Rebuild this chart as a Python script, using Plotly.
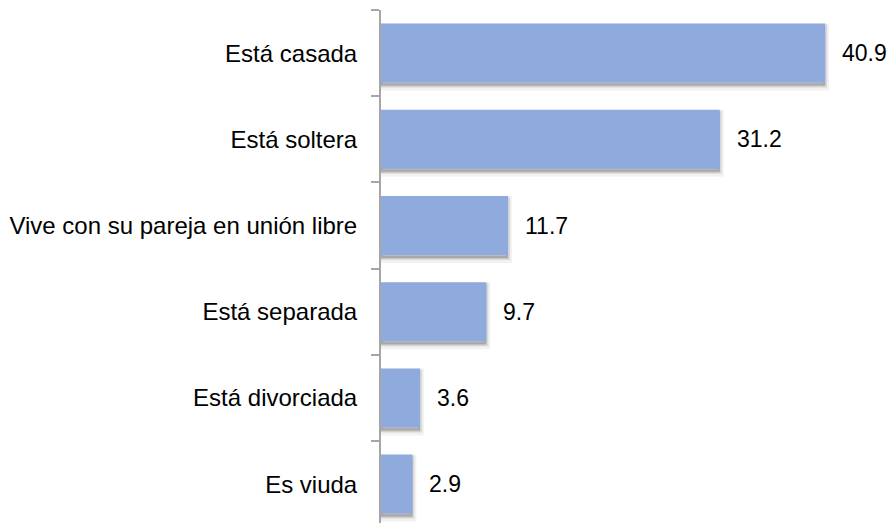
import plotly.graph_objects as go

categories = ["Está casada", "Está soltera", "Vive con su pareja en unión libre",
              "Está separada", "Está divorciada", "Es viuda"]
values = [40.9, 31.2, 11.7, 9.7, 3.6, 2.9]
value_labels = ["40.9", "31.2", "11.7", "9.7", "3.6", "2.9"]

BAR_COLOR = "#8FAADC"
FONT = "Liberation Sans, Arial, sans-serif"
W, H = 891, 523
TOP = 10
BAND_PX = 86.2
bar_w = 59 / BAND_PX

fig = go.Figure()

# soft drop shadow (two layers)
fig.add_trace(go.Bar(
    x=values, y=categories, orientation="h",
    width=bar_w, offset=-bar_w / 2 + 4 / BAND_PX,
    marker=dict(color="rgba(0,0,0,0.08)", line=dict(color="rgba(0,0,0,0.05)", width=8)),
    hoverinfo="skip", showlegend=False,
))
fig.add_trace(go.Bar(
    x=values, y=categories, orientation="h",
    width=bar_w, offset=-bar_w / 2 + 3 / BAND_PX,
    marker=dict(color="rgba(0,0,0,0.16)", line=dict(color="rgba(0,0,0,0.10)", width=4)),
    hoverinfo="skip", showlegend=False,
))
# main bars
fig.add_trace(go.Bar(
    x=values, y=categories, orientation="h",
    width=bar_w, offset=-bar_w / 2,
    marker=dict(color=BAR_COLOR, line=dict(width=0)),
    showlegend=False,
))

for c, v, t in zip(categories, values, value_labels):
    fig.add_annotation(x=v, y=c, text=t, xanchor="left", yanchor="middle",
                       xshift=15, showarrow=False,
                       font=dict(family=FONT, size=23, color="#000000"))

plot_h = H - TOP
units = plot_h / BAND_PX
fig.update_layout(
    width=W, height=H,
    margin=dict(l=381, r=20, t=TOP, b=0, pad=0, autoexpand=False),
    paper_bgcolor="white", plot_bgcolor="white",
    barmode="overlay",
    font=dict(family=FONT, size=23, color="#000000"),
    xaxis=dict(range=[0, 490 / 10.86], visible=False, showgrid=False, zeroline=False,
               automargin=False),
    yaxis=dict(
        type="category",
        automargin=False,
        range=[-0.5 + units, -0.5],
        showline=True, linecolor="#A6A6A6", linewidth=2,
        ticks="outside", tickson="boundaries", ticklen=8, tickcolor="#A6A6A6", tickwidth=2,
        showgrid=False, zeroline=False,
        ticklabelstandoff=17,
        tickfont=dict(family=FONT, size=24, color="#000000"),
    ),
)

fig.write_html("out.html",
               config={"displayModeBar": False},
               post_script="document.body.style.margin='0';document.body.style.overflow='hidden';")
